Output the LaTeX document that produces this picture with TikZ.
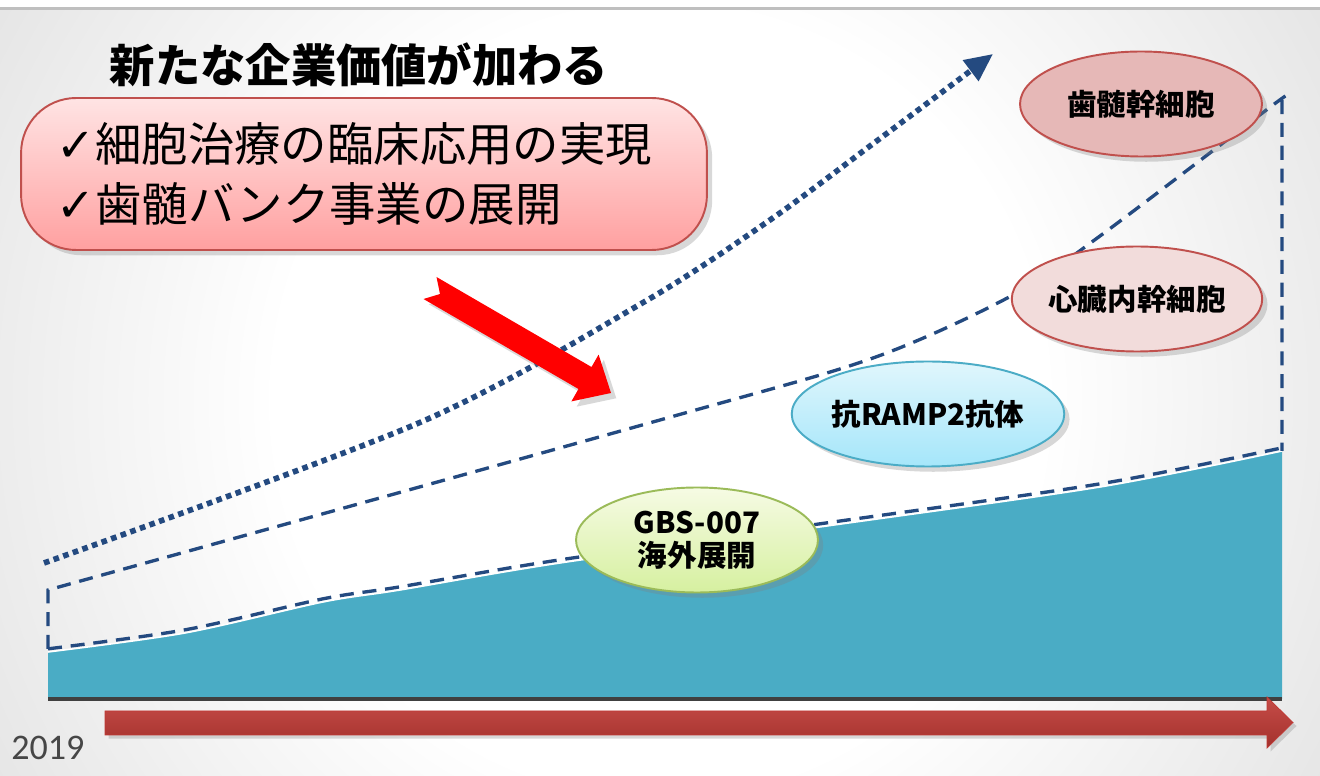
\documentclass[tikz,border=0pt]{standalone}
\usepackage{fontspec}
\setmainfont{Noto Sans CJK JP}
\newfontfamily\symfont{DejaVu Sans}
\newfontfamily\yearfont{Carlito}
\usepackage{xcolor}
\usetikzlibrary{shapes.geometric, arrows.meta, shadows}

\definecolor{lineblue}{RGB}{36,74,128}
\definecolor{areateal}{RGB}{74,172,197}
\definecolor{axisgrey}{RGB}{64,64,64}
\definecolor{yeargrey}{RGB}{70,70,70}
\definecolor{rimred}{RGB}{192,80,77}
\definecolor{pulpfill}{RGB}{230,184,183}
\definecolor{heartfill}{RGB}{242,220,219}
\definecolor{rimteal}{RGB}{75,172,198}
\definecolor{rimgreen}{RGB}{155,187,89}
\definecolor{barred}{RGB}{192,57,52}

\pgfdeclareradialshading{bgglow}{\pgfpoint{0bp}{0bp}}{color(0bp)=(white); color(10bp)=(white); color(34bp)=(black!24); color(50bp)=(black!28)}

\begin{document}
\begin{tikzpicture}[x=0.02cm, y=-0.02cm,
  bubble/.style={ellipse, draw, line width=1.1pt, inner sep=0pt,
    minimum width=4.84cm, minimum height=2.1cm, align=center,
    font=\bfseries\fontsize{16.8}{19}\selectfont,
    drop shadow={opacity=0.3, shadow xshift=3pt, shadow yshift=-3pt}},
  growth/.style={draw=lineblue, line width=1.9pt, dash pattern=on 8pt off 5pt},
  dotline/.style={draw=lineblue, line width=3.2pt, dash pattern=on 3.2pt off 2.6pt}]

\useasboundingbox (0,0) rectangle (1320,776);

% background
\fill[white] (0,0) rectangle (1320,776);
\begin{scope}
  \clip (0,9) rectangle (1320,776);
  \shade[shading=bgglow] (-300,-580) rectangle (1620,1380);
\end{scope}
\draw[black!25, line width=1.2pt] (0,8.5) -- (1320,8.5);

% area
\fill[areateal] (48,699) -- plot[smooth] coordinates {(48,652) (185,633) (323,602) (400,590) (560,563) (827,526) (1100,487) (1282,451)} -- (1282,699) -- cycle;
\draw[white, line width=0.9pt] plot[smooth] coordinates {(48,652) (185,633) (323,602) (400,590) (560,563) (827,526) (1100,487) (1282,451)};
\draw[growth, yshift=1.8pt] plot[smooth] coordinates {(48,652) (185,633) (323,602) (400,590) (560,563) (827,526) (1100,487) (1282,451)};

% upper lines
\draw[growth] (48,649) -- plot[smooth] coordinates {(48,590) (660,420) (873,358) (1013,295) (1100,236) (1273,105) (1282,100)} -- (1282,451);
\draw[dotline, -{Triangle[length=0.56cm, width=0.5cm]}] plot[smooth] coordinates {(44,563) (421,422) (644,302) (770,220) (874,143) (993,54)};

% axis
\draw[axisgrey, line width=2.4pt] (48,699) -- (1282,699);
\shade[top color=barred!90!white, bottom color=barred!85!black, draw=barred, line width=0.4pt,
  drop shadow={opacity=0.3, shadow xshift=2pt, shadow yshift=-2pt}]
  (105,711) -- (1267,711) -- (1267,697) -- (1293,722.5) -- (1267,748) -- (1267,735) -- (105,735) -- cycle;
\node[font=\yearfont\fontsize{20.5}{24}\selectfont, text=yeargrey, anchor=west, inner sep=0pt] (year) at (11,748) {2019};

% title and goals
\node[font=\bfseries\fontsize{25.8}{28}\selectfont] (title) at (359,65) {新たな企業価値が加わる};
\node[draw=rimred, line width=1.1pt, rounded corners=1.1cm,
  top color={rgb,255:red,255;green,228;blue,228}, bottom color={rgb,255:red,255;green,160;blue,160},
  minimum width=13.72cm, minimum height=3.04cm, text width=12.3cm, inner xsep=0.71cm,
  align=left, font=\fontsize{26.4}{34}\selectfont,
  drop shadow={opacity=0.3, shadow xshift=3pt, shadow yshift=-3pt}] (goals) at (364,174)
  {{\symfont ✓}細胞治療の臨床応用の実現\\{\symfont ✓}歯髄バンク事業の展開};

% red arrow
\fill[red, drop shadow={opacity=0.3, shadow xshift=3pt, shadow yshift=-3pt}]
  (436.5,277) -- (591.5,367) -- (598.6,354.6) -- (611,393) -- (571.4,401.4) -- (578.5,389) -- (423.5,299) -- (440,294) -- cycle;

% bubbles
\node[bubble, fill=pulpfill, draw=rimred] (pulp) at (1141,104) {歯髄幹細胞};
\node[bubble, fill=heartfill, draw=rimred] (heart) at (1137,299) {心臓内幹細胞};
\node[bubble, top color={rgb,255:red,224;green,246;blue,252}, bottom color={rgb,255:red,165;green,230;blue,250}, draw=rimteal] (ramp) at (928,414) {抗RAMP2抗体};
\node[bubble, top color={rgb,255:red,246;green,251;blue,228}, bottom color={rgb,255:red,214;green,240;blue,160}, draw=rimgreen] (gbs) at (697,540) {GBS-007\\海外展開};

\end{tikzpicture}
\end{document}
